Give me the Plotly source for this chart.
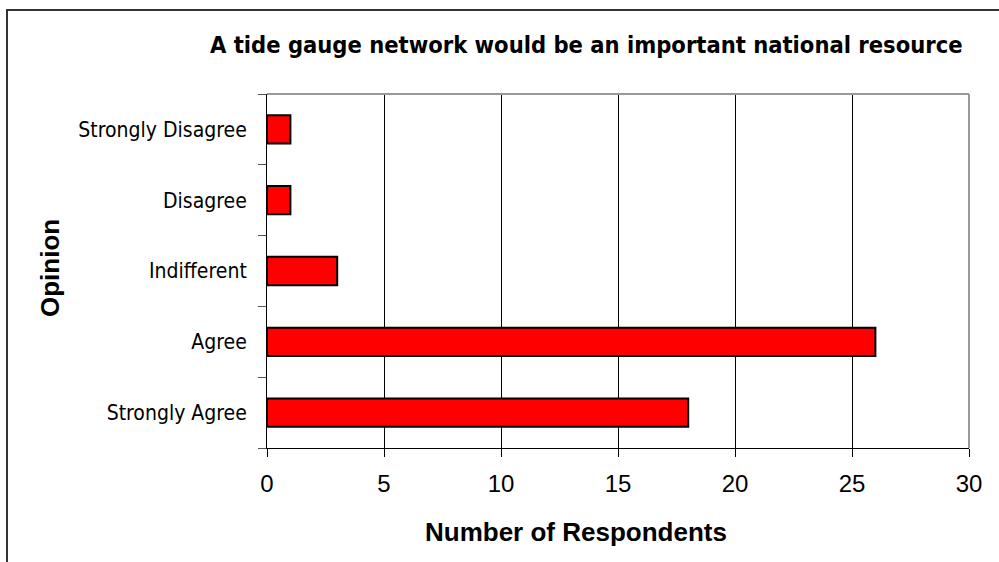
import plotly.graph_objects as go

# Survey responses
opinions = ["Strongly Agree", "Agree", "Indifferent", "Disagree", "Strongly Disagree"]
respondents = [18, 26, 3, 1, 1]
x_ticks = [0, 5, 10, 15, 20, 25, 30]

W, H = 999, 562
ML, MR, MT, MB = 267, 30, 94, 114
PW, PH = W - ML - MR, H - MT - MB

NARROW = "DejaVu Sans Condensed, Liberation Sans Narrow, Arial Narrow, Liberation Sans, sans-serif"
REGULAR = "Liberation Sans, Arial, sans-serif"


def px_x(p):
    return (p - ML) / PW


def px_y(p):
    return (H - MB - p) / PH


fig = go.Figure(
    go.Bar(
        x=respondents,
        y=opinions,
        orientation="h",
        marker=dict(color="#ff0000", line=dict(color="#000000", width=2)),
        width=0.4,
    )
)

fig.update_layout(
    width=W,
    height=H,
    margin=dict(l=ML, r=MR, t=MT, b=MB),
    paper_bgcolor="white",
    plot_bgcolor="white",
    showlegend=False,
    xaxis=dict(
        range=[0, 30],
        tickvals=x_ticks,
        ticks="outside",
        ticklen=8,
        tickcolor="#000000",
        showgrid=True,
        gridcolor="#000000",
        gridwidth=1,
        showline=True,
        linecolor="#000000",
        linewidth=1,
        zeroline=False,
        tickfont=dict(family=REGULAR, size=24, color="#000000"),
        ticklabelstandoff=6,
    ),
    yaxis=dict(
        categoryorder="array",
        categoryarray=opinions,
        ticks="outside",
        tickson="boundaries",
        ticklen=8,
        tickcolor="#555555",
        showgrid=False,
        showline=True,
        linecolor="#000000",
        linewidth=1,
        tickfont=dict(family=NARROW, size=21, color="#000000"),
        ticklabelstandoff=15,
    ),
    annotations=[
        dict(
            text="<b>A tide gauge network would be an important national resource</b>",
            xref="paper", yref="paper",
            x=px_x(586), y=px_y(45),
            xanchor="center", yanchor="middle",
            showarrow=False,
            font=dict(family=NARROW, size=23.5, color="#000000"),
        ),
        dict(
            text="<b>Number of Respondents</b>",
            xref="paper", yref="paper",
            x=px_x(576), y=px_y(532),
            xanchor="center", yanchor="middle",
            showarrow=False,
            font=dict(family=REGULAR, size=26, color="#000000"),
        ),
        dict(
            text="<b>Opinion</b>",
            xref="paper", yref="paper",
            x=px_x(50), y=px_y(268),
            xanchor="center", yanchor="middle",
            textangle=-90,
            showarrow=False,
            font=dict(family=REGULAR, size=26, color="#000000"),
        ),
    ],
    shapes=[
        # outer chart frame: top and left edges
        dict(type="line", xref="paper", yref="paper",
             x0=px_x(6), x1=px_x(1040), y0=px_y(10), y1=px_y(10),
             line=dict(color="#333333", width=2), layer="below"),
        dict(type="line", xref="paper", yref="paper",
             x0=px_x(7), x1=px_x(7), y0=px_y(600), y1=px_y(9),
             line=dict(color="#333333", width=2), layer="below"),
        # grey plot-area border on top and right
        dict(type="line", xref="paper", yref="paper",
             x0=0, x1=1, y0=1, y1=1, line=dict(color="#999999", width=2), layer="above"),
        dict(type="line", xref="paper", yref="paper",
             x0=1, x1=1, y0=0, y1=1, line=dict(color="#999999", width=2), layer="above"),
    ],
)

fig.write_html("out.html")
